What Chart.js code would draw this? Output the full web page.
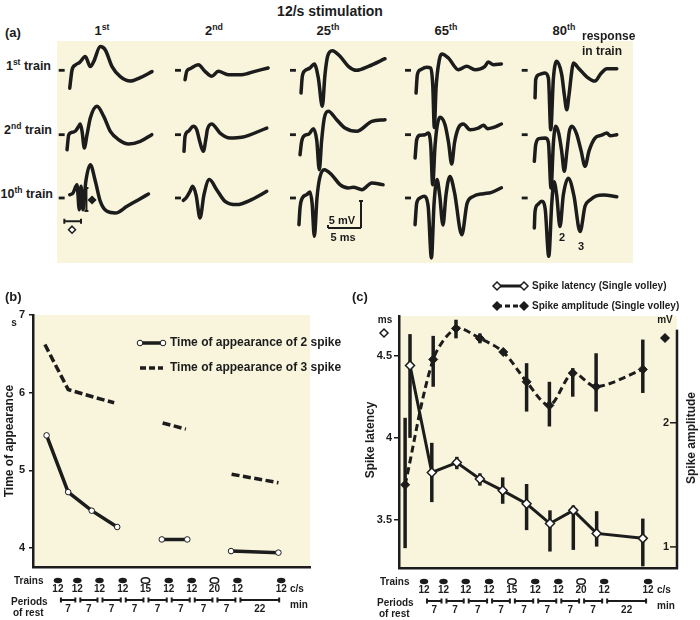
<!DOCTYPE html>
<html>
<head>
<meta charset="utf-8">
<script src="https://cdn.jsdelivr.net/npm/chart.js@4.4.1/dist/chart.umd.min.js"></script>
<style>
  body { margin: 0; background: #fff; }
  #fig { position: relative; width: 700px; height: 620px; overflow: hidden;
         font-family: "Liberation Sans", Arial, sans-serif; font-weight: bold; color: #1c1c1c; }
  #fig canvas { position: absolute; }
  .lbl { position: absolute; white-space: nowrap; line-height: 1; transform: translate(-50%, -50%); }
  .lbl.left { transform: translate(0, -50%); }
  .lbl.right { transform: translate(-100%, -50%); }
  .lbl.rot { transform: translate(-50%, -50%) rotate(-90deg); }
  sup { font-size: 68%; vertical-align: 0; position: relative; top: -0.55em; }
</style>
</head>
<body>
<div id="fig">
  <canvas id="traces" width="576" height="222" style="left:57px;top:41px;background:#f8f5dc"></canvas>
  <canvas id="chartB" width="350" height="340" style="left:0;top:280px"></canvas>
  <canvas id="chartC" width="350" height="340" style="left:350px;top:280px"></canvas>

  <div class="lbl" style="left:330px;top:11px;font-size:14px">12/s stimulation</div>
  <div class="lbl left" style="left:5px;top:32px;font-size:13px">(a)</div>
  <div class="lbl" style="left:102px;top:30px;font-size:13px">1<sup>st</sup></div>
  <div class="lbl" style="left:214px;top:30px;font-size:13px">2<sup>nd</sup></div>
  <div class="lbl" style="left:328px;top:30px;font-size:13px">25<sup>th</sup></div>
  <div class="lbl" style="left:446px;top:30px;font-size:13px">65<sup>th</sup></div>
  <div class="lbl" style="left:564px;top:30px;font-size:13px">80<sup>th</sup></div>
  <div class="lbl left" style="left:582px;top:36px;font-size:12px">response</div>
  <div class="lbl left" style="left:582px;top:51px;font-size:12px">in train</div>
  <div class="lbl right" style="left:51px;top:66px;font-size:12.5px">1<sup>st</sup> train</div>
  <div class="lbl right" style="left:52px;top:130px;font-size:12.5px">2<sup>nd</sup> train</div>
  <div class="lbl right" style="left:53px;top:194px;font-size:12.5px">10<sup>th</sup> train</div>
  <div class="lbl" style="left:342px;top:220px;font-size:11px">5 mV</div>
  <div class="lbl" style="left:343px;top:237px;font-size:11px">5 ms</div>
  <div class="lbl" style="left:562px;top:237px;font-size:11px">2</div>
  <div class="lbl" style="left:581px;top:246px;font-size:11px">3</div>

  <div class="lbl left" style="left:5px;top:296px;font-size:13px">(b)</div>
  <div class="lbl" style="left:14px;top:323px;font-size:10px">s</div>
  <div class="lbl rot" style="left:9px;top:441px;font-size:12px">Time of appearance</div>

  <div class="lbl left" style="left:352px;top:296px;font-size:13px">(c)</div>
  <div class="lbl rot" style="left:370px;top:440px;font-size:12px">Spike latency</div>
  <div class="lbl rot" style="left:691px;top:438px;font-size:12px">Spike amplitude</div>
</div>

<script>
  var ink = '#1c1c1c';
  var paper = '#f8f5dc';
  var family = '"Liberation Sans", Arial, sans-serif';

  // (a) single responses, [time ms, potential mV] from the start of each baseline mark
  var tr1_resp1 = [[1.67,-3.3],[2.02,0.06],[2.52,0.98],[3.18,1.48],[4.03,2.54],[4.79,0.69],[5.3,1.61],[6.3,4.39],[7.06,3.76],[8.08,0.69],[9.33,-1.17],[10.85,-1.98],[12.36,-1.35],[14.14,-0.24]];
  var tr1_resp2 = [[1.52,-1.74],[1.77,-0.19],[2.27,0.3],[3.53,1.04],[4.55,-0.19],[5.56,-1.11],[6.56,-0.19],[8.08,-0.81],[10.1,-0.81],[12.1,-0.19],[14.1,0.43]];
  var tr1_resp25 = [[1.67,-4.2],[1.87,-1.1],[2.27,-0.07],[3.03,0.43],[3.69,1.17],[4.29,-1.4],[4.9,-6.67],[5.3,-0.81],[5.7,2.6],[6.41,3.63],[7.58,2.6],[8.84,0.74],[10.1,0],[11.9,0.74],[14.4,2.15]];
  var tr1_resp65 = [[1.67,-4.2],[1.87,-0.81],[2.37,0.12],[3.28,0.55],[3.9,0.43],[4.2,-2.7],[4.44,-10.6],[4.7,-3.3],[5.2,1.97],[5.56,3.02],[6.57,2.28],[8.08,0.12],[9.34,0.74],[10.6,0.12],[12.1,0.74],[12.6,1.54],[13.4,1.04],[14.6,1.17]];
  var tr1_resp80 = [[2.02,-5.1],[2.12,-1.7],[2.62,-0.8],[3.53,-0.5],[4.05,-1.5],[4.4,-11],[4.8,-1.5],[5.3,1.67],[6.06,-0.8],[6.45,-4.5],[6.82,-7.3],[7.17,-4.5],[7.57,-0.3],[7.82,1.35],[8.6,0.4],[9.85,-1.2],[11.1,-2.0],[12.0,-0.6],[12.9,0.3],[14.4,0.3]];

  var tr2_resp1 = [[1.26,-2.78],[1.52,0],[2.0,0.44],[2.5,0.63],[3.0,1.5],[3.27,1.98],[3.55,0.5],[3.88,-2.46],[4.29,0],[4.79,3.09],[5.8,5.26],[6.82,3.4],[7.82,0.63],[9.09,-0.93],[10.6,-1.72],[12.36,-1.23],[14.1,0]];
  var tr2_resp2 = [[1.36,-3.07],[1.52,-0.3],[2.02,0.63],[2.77,1.56],[3.28,0.93],[3.8,-1.5],[4.29,-3.07],[4.7,-0.6],[4.9,0.93],[5.56,1.98],[6.82,0.31],[8.33,-0.62],[10.1,-0.49],[13.9,1.23]];
  var tr2_resp25 = [[1.52,-3.7],[1.77,-1.23],[2.27,-0.1],[2.88,0.12],[3.53,1.11],[4.05,-1.0],[4.44,-6.5],[4.8,-1.0],[5.2,3.09],[5.8,4.33],[7.07,2.78],[8.33,1.23],[10.1,0.62],[12.4,2.47],[14.4,2.78]];
  var tr2_resp65 = [[1.52,-4.32],[1.77,-0.93],[2.27,-0.1],[3.03,0],[3.53,0.31],[3.9,-2.0],[4.19,-9.26],[4.55,-2.0],[4.9,1.85],[5.3,3.22],[6.06,1.85],[6.6,-1.5],[7.07,-5.43],[7.5,-1.5],[8.08,1.23],[8.84,1.98],[9.85,0.93],[11.1,1.23],[11.9,1.73],[12.5,1.11],[13.3,1.3],[14.6,1.98]];
  var tr2_resp80 = [[1.91,-4.93],[2.12,-1.85],[2.62,-0.74],[3.64,-0.62],[4.05,-1.5],[4.44,-9.9],[4.8,-1.5],[5.15,1.56],[5.6,0.3],[6.05,-3],[6.45,-6.78],[6.85,-3],[7.2,0.5],[7.58,1.56],[8.3,0.2],[9.0,-3],[9.6,-5.85],[10.2,-3],[11.1,-0.62],[12.1,-0.1],[12.9,0.31],[13.4,-0.2],[14.4,0]];

  var tr10_resp1 = [[1.67,0.6],[2.17,0.93],[2.77,2.47],[3.12,-2.16],[3.38,2.16],[3.68,-2.16],[4.1,3.0],[4.79,6.17],[5.55,3.09],[6.3,-0.62],[7.32,-2.47],[8.58,-2.78],[10.35,-1.54],[12.1,-0.31],[13.6,0.74]];
  var tr10_resp2 = [[1.26,-0.43],[1.67,0],[2.27,1.23],[2.68,2.16],[3.2,0.5],[3.79,-3.7],[4.39,0.62],[5.2,3.4],[6.31,1.54],[7.58,-0.62],[9.34,-1.23],[11.6,-0.31],[13.9,1.23]];
  var tr10_resp25 = [[1.36,-4.94],[1.52,-1.85],[1.87,0],[2.53,0.62],[3.03,1.11],[3.35,-1.0],[3.69,-7.1],[4.09,0],[4.5,3.7],[5.2,5.25],[6.31,4.32],[7.58,2.47],[8.84,1.85],[9.6,2.0],[10.9,1.54],[12.4,2.78],[14.1,2.47]];
  var tr10_resp65 = [[1.52,-4.94],[1.77,-0.93],[2.27,0],[2.88,0.31],[3.5,-1.5],[4.0,-11.1],[4.4,-1.0],[4.85,3.4],[5.25,0.5],[5.75,-5.0],[6.2,0.5],[6.8,4.0],[7.5,1.0],[8.6,-6.8],[9.4,-1.0],[10.35,0.3],[11.9,0.8],[13.0,1.0],[14.6,1.9]];
  var tr10_resp80 = [[1.91,-5.56],[2.02,-2.47],[2.42,-1.23],[3.03,-0.62],[3.55,-2.0],[4.1,-10.8],[4.55,-1.0],[4.9,3.0],[5.3,0.5],[5.8,-5.3],[6.3,0.5],[7.06,3.65],[7.9,0.5],[8.84,-6.2],[9.6,-1.5],[10.35,-0.37],[11.3,0.4],[12.4,0.56],[14.4,0.24]];

  var traceGrid = [
    [tr1_resp1, tr1_resp2, tr1_resp25, tr1_resp65, tr1_resp80],
    [tr2_resp1, tr2_resp2, tr2_resp25, tr2_resp65, tr2_resp80],
    [tr10_resp1, tr10_resp2, tr10_resp25, tr10_resp65, tr10_resp80]
  ];

  // (b) time of appearance (s), x = position along the stimulation schedule
  var spike2X = [4.9, 12.7, 21.2, 30.4, 46.5, 55.7, 71.5, 88.6];
  var spike2Y = [5.45, 4.72, 4.48, 4.27, 4.11, 4.11, 3.96, 3.94];
  var spike3X = [4.3, 12.7, 21.2, 29.3, 46.8, 55.2, 71.7, 88.6];
  var spike3Y = [6.62, 6.04, 5.95, 5.87, 5.61, 5.53, 4.95, 4.84];
  var runStarts = [4, 6];
  var timeTicks = [4, 5, 6, 7];

  // (c) spike latency (ms) and amplitude (mV) with error bars
  var latX = [3.96, 11.8, 20.8, 29.1, 37.3, 45.9, 54.3, 62.7, 71.1, 87.7];
  var latY = [4.44, 3.79, 3.85, 3.75, 3.68, 3.60, 3.48, 3.56, 3.42, 3.39];
  var latLo = [4.0, 3.61, 3.81, 3.71, 3.60, 3.44, 3.31, 3.32, 3.34, 3.22];
  var latHi = [4.63, 3.97, 3.885, 3.785, 3.76, 3.72, 3.56, 3.59, 3.555, 3.51];
  var ampX = [2.2, 12.3, 20.5, 29.1, 37.5, 45.9, 54.1, 62.5, 70.9, 87.7];
  var ampY = [1.50, 2.51, 2.76, 2.68, 2.57, 2.33, 2.14, 2.40, 2.29, 2.43];
  var ampLo = [0.99, 2.29, 2.68, 2.64, 2.55, 2.09, 1.97, 2.21, 2.09, 2.24];
  var ampHi = [2.04, 2.70, 2.83, 2.72, 2.59, 2.48, 2.33, 2.44, 2.56, 2.67];
  var latTicks = [3.5, 4, 4.5];
  var ampTicks = [1, 2];

  // stimulation schedule under (b) and (c)
  var trainX = [9, 16, 24, 32.4, 40.6, 49, 57.3, 65.5, 73.8, 89.6];
  var trainRate = [12, 12, 12, 12, 15, 12, 12, 20, 12, 12];
  var restMin = [7, 7, 7, 7, 7, 7, 7, 7, 22];

  // layout of panel (a): column start (ms) and row baseline (mV)
  var colStart = [0.26, 17.88, 35.3, 52.73, 70.41];
  var rowBase = [-5.43, -17.35, -29.07];

  function font(size) { return 'bold ' + size + 'px ' + family; }

  function line(ctx, x0, y0, x1, y1) {
    ctx.beginPath(); ctx.moveTo(x0, y0); ctx.lineTo(x1, y1); ctx.stroke();
  }

  function diamond(ctx, x, y, r, filled) {
    ctx.beginPath();
    ctx.moveTo(x, y - r); ctx.lineTo(x + r, y); ctx.lineTo(x, y + r); ctx.lineTo(x - r, y);
    ctx.closePath();
    ctx.fillStyle = filled ? ink : '#fff';
    ctx.fill();
    ctx.lineWidth = 1.5; ctx.strokeStyle = ink; ctx.stroke();
  }

  function openDot(ctx, x, y, r) {
    ctx.beginPath(); ctx.arc(x, y, r, 0, Math.PI * 2);
    ctx.fillStyle = '#fff'; ctx.fill();
    ctx.lineWidth = 1; ctx.strokeStyle = ink; ctx.stroke();
  }

  // beige plotting area.
  var paperFill = {
    id: 'paperFill',
    beforeDraw: function (chart) {
      var a = chart.chartArea, ctx = chart.ctx;
      ctx.save();
      ctx.fillStyle = paper;
      ctx.fillRect(a.left, a.top, a.right - a.left, a.bottom - a.top);
      ctx.restore();
    }
  };

  // trains and rest periods rows below the x axis.
  var trainRows = {
    id: 'trainRows',
    afterDraw: function (chart) {
      var ctx = chart.ctx, a = chart.chartArea, x = chart.scales.x;
      ctx.save();
      ctx.fillStyle = ink; ctx.strokeStyle = ink;
      ctx.font = font(10); ctx.textBaseline = 'middle'; ctx.textAlign = 'left';
      ctx.fillText('Trains', a.left - 19, a.bottom + 14);
      ctx.fillText('Periods', a.left - 22, a.bottom + 35);
      ctx.fillText('of rest', a.left - 20, a.bottom + 46);
      ctx.fillText('c/s', a.right - 20, a.bottom + 22.5);
      ctx.fillText('min', a.right - 20, a.bottom + 38);

      ctx.textAlign = 'center';
      trainX.forEach(function (v, i) {
        var px = x.getPixelForValue(v);
        ctx.beginPath();
        ctx.ellipse(px, a.bottom + 13.5, 4.2, 2.8, 0, 0, Math.PI * 2);
        if (trainRate[i] === 12) {
          ctx.fillStyle = ink; ctx.fill();
        } else {
          ctx.fillStyle = '#fff'; ctx.fill();
          ctx.lineWidth = 1.5; ctx.stroke();
        }
        ctx.fillStyle = ink;
        ctx.fillText(String(trainRate[i]), px, a.bottom + 22.5);
      });

      ctx.lineWidth = 2;
      restMin.forEach(function (m, i) {
        var x0 = x.getPixelForValue(trainX[i]) + 3;
        var x1 = x.getPixelForValue(trainX[i + 1]) - 2;
        var y = a.bottom + 33;
        line(ctx, x0, y, x1, y);
        line(ctx, x0, y - 2.5, x0, y + 2.5);
        line(ctx, x1, y - 2.5, x1, y + 2.5);
        ctx.fillText(String(m), (x0 + x1) / 2, a.bottom + 42.5);
      });
      ctx.restore();
    }
  };

  // (a) draw every response with its baseline mark.
  function createTraces() {
    var sets = [];
    traceGrid.forEach(function (row, r) {
      row.forEach(function (trace, c) {
        sets.push({
          data: trace.map(function (p) { return { x: colStart[c] + p[0], y: rowBase[r] + p[1] }; }),
          showLine: true, borderColor: ink, borderWidth: 3.5, pointRadius: 0,
          cubicInterpolationMode: 'monotone', borderCapStyle: 'round', borderJoinStyle: 'round'
        });
        sets.push({
          data: [{ x: colStart[c], y: rowBase[r] }, { x: colStart[c] + 0.9, y: rowBase[r] }],
          showLine: true, borderColor: ink, borderWidth: 2.8, pointRadius: 0
        });
      });
    });

    var traceMarks = {
      id: 'traceMarks',
      afterDatasetsDraw: function (chart) {
        var ctx = chart.ctx, x = chart.scales.x, y = chart.scales.y;
        var px = function (c, t) { return x.getPixelForValue(colStart[c] + t); };
        var py = function (r, v) { return y.getPixelForValue(rowBase[r] + v); };
        ctx.save();
        ctx.strokeStyle = ink; ctx.lineWidth = 2;

        // amplitude and latency markers on the 10th train, 1st response
        var bx = px(0, 4.2), top = py(2, 1.85), bot = py(2, -2.4);
        line(ctx, bx, top, bx, bot);
        line(ctx, bx - 2, top, bx + 2, top);
        line(ctx, bx - 2, bot, bx + 2, bot);
        diamond(ctx, px(0, 5.05), py(2, -0.37), 3.5, true);
        ctx.lineWidth = 2;
        var l0 = px(0, 0.85), l1 = px(0, 3.38), ly = py(2, -4.31);
        line(ctx, l0, ly, l1, ly);
        line(ctx, l0, ly - 2.5, l0, ly + 2.5);
        line(ctx, l1, ly - 2.5, l1, ly + 2.5);
        diamond(ctx, px(0, 2.02), py(2, -5.87), 3.5, false);

        // 5 mV / 5 ms calibration
        ctx.lineWidth = 2;
        var sx = x.getPixelForValue(46.06), sy = y.getPixelForValue(-34.63);
        var sTop = y.getPixelForValue(-34.63 + 5), sLeft = x.getPixelForValue(46.06 - 5);
        line(ctx, sx, sy, sx, sTop);
        line(ctx, sx - 2, sTop, sx + 2, sTop);
        line(ctx, sLeft, sy, sx, sy);
        line(ctx, sLeft, sy, sLeft, sy - 3);
        ctx.restore();
      }
    };

    new Chart(document.getElementById('traces'), {
      type: 'scatter',
      data: { datasets: sets },
      options: {
        responsive: false, animation: false,
        layout: { padding: 0 },
        plugins: { legend: { display: false }, tooltip: { enabled: false } },
        scales: {
          x: { display: false, min: 0, max: 87.27 },
          y: { display: false, min: -41.11, max: 0 }
        }
      },
      plugins: [traceMarks]
    });
  }

  function baseX() {
    return {
      type: 'linear', min: 0, max: 100,
      ticks: { display: false },
      grid: { display: false, drawTicks: false },
      border: { color: ink, width: 2.5 },
      afterFit: function (s) { s.height = 0; }
    };
  }

  function plainTick(v) { return String(v); }

  // split a series into runs so the line breaks between them.
  function seriesData(xs, ys) {
    var out = [];
    xs.forEach(function (v, i) {
      if (runStarts.indexOf(i) >= 0) out.push({ x: (xs[i - 1] + v) / 2, y: null });
      out.push({ x: v, y: ys[i] });
    });
    return out;
  }

  // (b) time of appearance chart.
  function createTimeChart() {
    var legendB = {
      id: 'legendB',
      afterDraw: function (chart) {
        var ctx = chart.ctx, a = chart.chartArea;
        var x0 = a.left + 107, x1 = a.left + 130, tx = a.left + 137;
        ctx.save();
        ctx.strokeStyle = ink; ctx.lineWidth = 3.5;
        var y = a.top + 28;
        line(ctx, x0, y, x1, y);
        openDot(ctx, x0, y, 2.8); openDot(ctx, x1, y, 2.8);
        ctx.fillStyle = ink; ctx.font = font(12); ctx.textBaseline = 'middle';
        ctx.fillText('Time of appearance of 2 spike', tx, y);
        y = a.top + 53;
        ctx.lineWidth = 3.5; ctx.setLineDash([6, 3]);
        line(ctx, x0, y, x1, y);
        ctx.setLineDash([]);
        ctx.fillText('Time of appearance of 3 spike', tx, y);
        ctx.restore();
      }
    };

    new Chart(document.getElementById('chartB'), {
      type: 'scatter',
      data: {
        datasets: [{
          data: seriesData(spike2X, spike2Y), showLine: true, spanGaps: false,
          borderColor: ink, borderWidth: 3.5, pointRadius: 2.8,
          pointBackgroundColor: '#fff', pointBorderColor: ink, pointBorderWidth: 1
        }, {
          data: seriesData(spike3X, spike3Y), showLine: true, spanGaps: false,
          borderColor: ink, borderWidth: 3.5, borderDash: [8, 3.5], pointRadius: 0
        }]
      },
      options: {
        responsive: false, animation: false,
        layout: { padding: { left: 0, top: 35, right: 40, bottom: 53 } },
        plugins: { legend: { display: false }, tooltip: { enabled: false } },
        scales: {
          x: baseX(),
          y: {
            min: 3.755, max: 7,
            afterBuildTicks: function (s) { s.ticks = timeTicks.map(function (v) { return { value: v }; }); },
            ticks: { color: ink, font: { family: family, size: 11, weight: 'bold' }, padding: 4, callback: plainTick },
            grid: { drawOnChartArea: false, tickLength: 4, color: ink, lineWidth: 1.5 },
            border: { color: ink, width: 2.5 },
            afterFit: function (s) { s.width = 33; }
          }
        }
      },
      plugins: [paperFill, trainRows, legendB]
    });
  }

  // (c) latency and amplitude chart.
  function createSpikeChart() {
    var errorBars = {
      id: 'errorBars',
      beforeDatasetsDraw: function (chart) {
        var ctx = chart.ctx, s = chart.scales;
        ctx.save();
        ctx.strokeStyle = ink; ctx.lineWidth = 3.5;
        ampX.forEach(function (v, i) {
          var px = s.x.getPixelForValue(v);
          line(ctx, px, s.y1.getPixelForValue(ampLo[i]), px, s.y1.getPixelForValue(ampHi[i]));
        });
        latX.forEach(function (v, i) {
          var px = s.x.getPixelForValue(v);
          line(ctx, px, s.y.getPixelForValue(latLo[i]), px, s.y.getPixelForValue(latHi[i]));
        });
        ctx.restore();
      }
    };

    var legendC = {
      id: 'legendC',
      afterDraw: function (chart) {
        var ctx = chart.ctx, a = chart.chartArea, y1 = chart.scales.y1;
        var x0 = a.left + 98, x1 = a.left + 125, tx = a.left + 133;
        ctx.save();
        ctx.font = font(10); ctx.textBaseline = 'middle'; ctx.textAlign = 'left';

        var y = a.top - 30;
        ctx.strokeStyle = ink; ctx.lineWidth = 3;
        line(ctx, x0, y, x1, y);
        diamond(ctx, x0, y, 4, false); diamond(ctx, x1, y, 4, false);
        ctx.fillStyle = ink;
        ctx.fillText('Spike latency (Single volley)', tx, y);

        y = a.top - 10;
        ctx.lineWidth = 3; ctx.setLineDash([5, 3]);
        line(ctx, x0, y, x1, y);
        ctx.setLineDash([]);
        diamond(ctx, x0, y, 4, true); diamond(ctx, x1, y, 4, true);
        ctx.fillStyle = ink;
        ctx.fillText('Spike amplitude (Single volley)', tx, y);

        // units
        ctx.textAlign = 'center';
        ctx.fillText('ms', a.left - 14, a.top + 4);
        diamond(ctx, a.left - 15, a.top + 17, 4, false);
        ctx.fillStyle = ink;
        ctx.fillText('mV', a.right - 12, a.top + 4);
        diamond(ctx, a.right - 12, a.top + 22, 4, true);

        // right axis, its ticks point inwards
        ctx.strokeStyle = ink; ctx.lineWidth = 2.5;
        line(ctx, a.right, y1.getPixelForValue(2.75), a.right, a.bottom + 1);
        ctx.lineWidth = 1.5; ctx.textAlign = 'right'; ctx.fillStyle = ink;
        ctx.font = font(11);
        ampTicks.forEach(function (v) {
          var py = y1.getPixelForValue(v);
          line(ctx, a.right - 7, py, a.right, py);
          ctx.fillText(String(v), a.right - 8, py);
        });
        ctx.restore();
      }
    };

    new Chart(document.getElementById('chartC'), {
      type: 'scatter',
      data: {
        datasets: [{
          data: ampX.map(function (v, i) { return { x: v, y: ampY[i] }; }),
          yAxisID: 'y1', showLine: true, tension: 0.3,
          borderColor: ink, borderWidth: 3, borderDash: [7, 4],
          pointStyle: 'rectRot', pointRadius: 4.5,
          pointBackgroundColor: ink, pointBorderColor: ink, pointBorderWidth: 1
        }, {
          data: latX.map(function (v, i) { return { x: v, y: latY[i] }; }),
          yAxisID: 'y', showLine: true,
          borderColor: ink, borderWidth: 3,
          pointStyle: 'rectRot', pointRadius: 4.5,
          pointBackgroundColor: '#fff', pointBorderColor: ink, pointBorderWidth: 1.5
        }]
      },
      options: {
        responsive: false, animation: false,
        layout: { padding: { left: 0, top: 36, right: 23, bottom: 52 } },
        plugins: { legend: { display: false }, tooltip: { enabled: false } },
        scales: {
          x: baseX(),
          y: {
            position: 'left', min: 3.21, max: 4.74,
            afterBuildTicks: function (s) { s.ticks = latTicks.map(function (v) { return { value: v }; }); },
            ticks: { color: ink, font: { family: family, size: 11, weight: 'bold' }, padding: 2, callback: plainTick },
            grid: { drawOnChartArea: false, tickLength: 5, color: ink, lineWidth: 1.5 },
            border: { color: ink, width: 2.5 },
            afterFit: function (s) { s.width = 49; }
          },
          y1: { display: false, position: 'right', min: 0.83, max: 2.86 }
        }
      },
      plugins: [paperFill, errorBars, trainRows, legendC]
    });
  }

  createTraces();
  createTimeChart();
  createSpikeChart();
</script>
</body>
</html>
